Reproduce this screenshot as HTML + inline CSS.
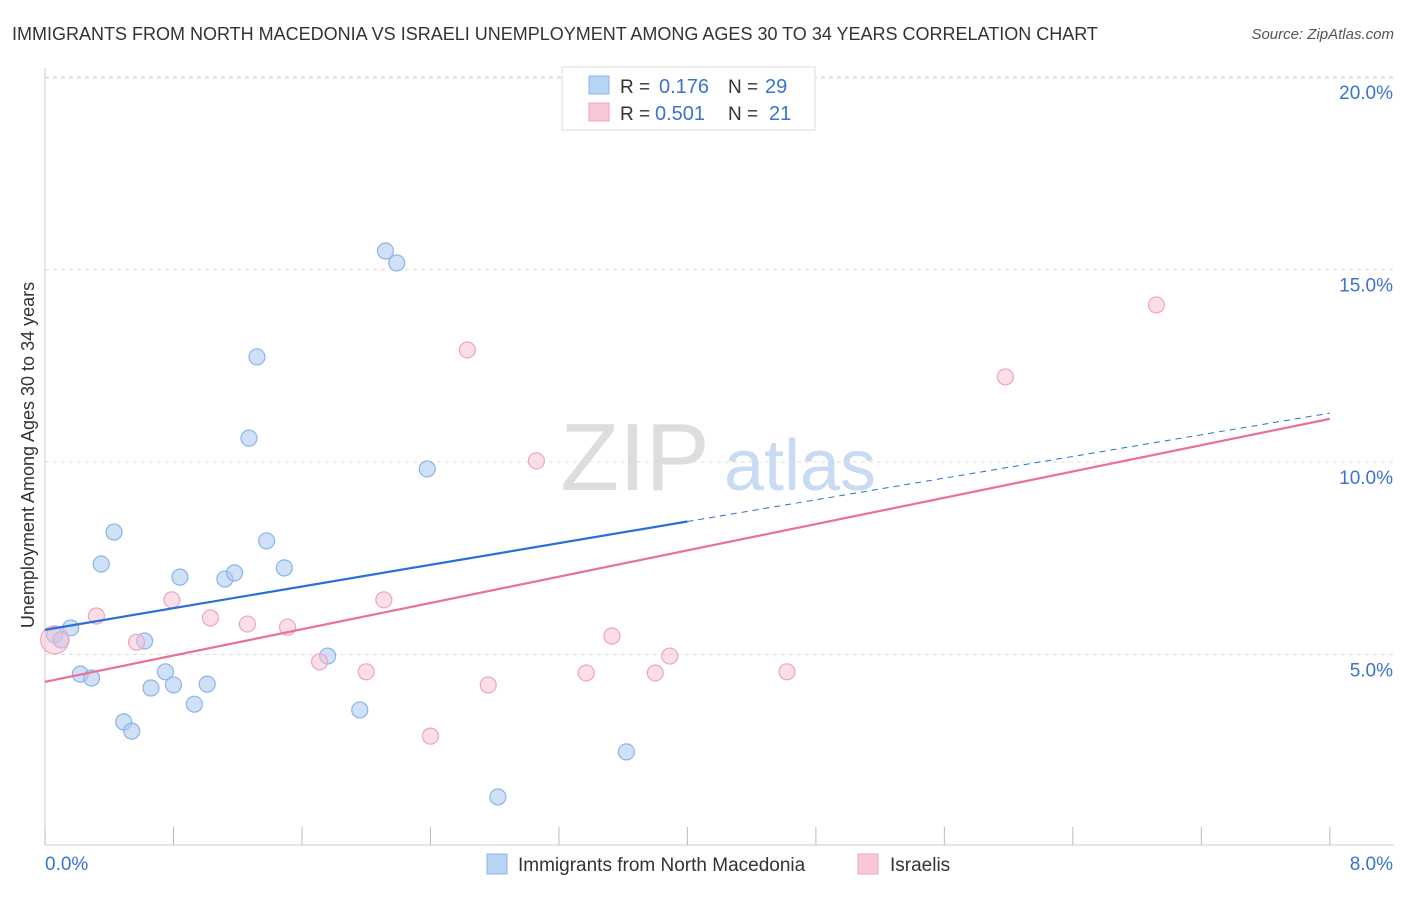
<!DOCTYPE html>
<html><head><meta charset="utf-8"><style>
body{margin:0;background:#fff;font-family:"Liberation Sans",sans-serif;}
svg text{font-family:"Liberation Sans",sans-serif;}
</style></head><body>
<svg id="c" width="1406" height="892">
<text x="12" y="40" font-size="18" fill="#333">IMMIGRANTS FROM NORTH MACEDONIA VS ISRAELI UNEMPLOYMENT AMONG AGES 30 TO 34 YEARS CORRELATION CHART</text>
<text x="1394" y="39" font-size="15" fill="#555" font-style="italic" text-anchor="end">Source: ZipAtlas.com</text>
<text x="635" y="490" font-size="96" fill="#ddd" font-family="Liberation Serif" text-anchor="middle">ZIP</text>
<text x="800" y="490" font-size="72" fill="#c9dbf2" text-anchor="middle">atlas</text>
<g id="grid"></g><g id="marks"></g>
<text transform="translate(34,455) rotate(-90)" font-size="18" fill="#333" text-anchor="middle">Unemployment Among Ages 30 to 34 years</text>
<g>
<rect x="562" y="67" width="253" height="63" fill="#fff" stroke="#ddd"/>
<rect x="589" y="76" width="20" height="18" fill="#b8d4f5" stroke="#8ab4e8"/>
<rect x="589" y="103" width="20" height="18" fill="#f9c8d8" stroke="#eea5bd"/>
<text x="620" y="93" font-size="19" fill="#333">R = </text><text x="659" y="93" font-size="20" fill="#3b73d0">0.176</text>
<text x="728" y="93" font-size="19" fill="#333">N = </text><text x="765" y="93" font-size="20" fill="#3b73d0">29</text>
<text x="620" y="120" font-size="19" fill="#333">R = </text><text x="655" y="120" font-size="20" fill="#3b73d0">0.501</text>
<text x="728" y="120" font-size="19" fill="#333">N = </text><text x="769" y="120" font-size="20" fill="#3b73d0">21</text>
</g>
<g>
<rect x="487" y="854" width="20" height="20" fill="#b8d4f5" stroke="#8ab4e8"/>
<text x="518" y="871" font-size="19" fill="#333">Immigrants from North Macedonia</text>
<rect x="858" y="854" width="20" height="20" fill="#f9c8d8" stroke="#eea5bd"/>
<text x="890" y="871" font-size="19" fill="#333">Israelis</text>
</g>
</svg>
<script>
const xTicks=[0,0.8,1.6,2.4,3.2,4,4.8,5.6,6.4,7.2,8];
const yTicks=[5,10,15,20];
const yTickLabels=["5.0%","10.0%","15.0%","20.0%"];
const blueX=[0.06,0.10,0.16,0.22,0.29,0.35,0.43,0.49,0.54,0.62,0.66,0.75,0.80,0.84,0.93,1.01,1.12,1.18,1.27,1.32,1.38,1.49,1.76,1.96,2.12,2.19,2.38,2.82,3.62];
const blueY=[5.51,5.38,5.69,4.49,4.39,7.35,8.18,3.25,3.01,5.35,4.13,4.55,4.21,7.01,3.71,4.23,6.96,7.12,10.62,12.73,7.95,7.25,4.96,3.56,15.48,15.17,9.82,1.30,2.47];
const pinkX=[0.06,0.32,0.57,0.79,1.03,1.26,1.51,1.71,2.00,2.11,2.40,2.63,2.76,3.06,3.37,3.53,3.80,3.89,4.62,5.98,6.92];
const pinkY=[5.38,6.00,5.32,6.42,5.95,5.79,5.71,4.81,4.55,6.42,2.88,12.91,4.21,10.03,4.52,5.48,4.52,4.96,4.55,12.21,14.08];
const blueLine=[5.64,11.27]; // value at x=0 and x=8
const pinkLine=[4.29,11.12];
const X=v=>45+v*160.6, Y=v=>847-v*38.5;
const NS="http://www.w3.org/2000/svg";
function mk(t,a,p){const e=document.createElementNS(NS,t);for(const k in a)e.setAttribute(k,a[k]);p.appendChild(e);return e;}
const g=document.getElementById('grid'),m=document.getElementById('marks');
let ax=mk('line',{x1:45,y1:68,x2:45,y2:845,stroke:'#ccc'},g);


let bx=mk('line',{x1:45,y1:845,x2:1394,y2:845,stroke:'#ccc'},g);


let tg=mk('line',{x1:45,y1:78,x2:1394,y2:78,stroke:'#ddd','stroke-dasharray':'4,4'},g);


yTicks.forEach((v,i)=>{
 const l=mk('line',{x1:45,y1:Y(v),x2:1394,y2:Y(v),stroke:'#ddd','stroke-dasharray':'4,4'},g);
 
 
 const t=mk('text',{x:1393,y:Y(v)+22,'font-size':19,fill:'#3b73d0','text-anchor':'end'},g);t.textContent=yTickLabels[i];
 
 
});
xTicks.forEach(v=>{const l=mk('line',{x1:X(v),y1:827,x2:X(v),y2:845,stroke:'#bbb'},g);
 
 });
let t0=mk('text',{x:45,y:870,'font-size':19,fill:'#3b73d0'},g);t0.textContent='0.0%';


let t1=mk('text',{x:1393,y:870,'font-size':19,fill:'#3b73d0','text-anchor':'end'},g);t1.textContent='8.0%';


blueX.forEach((x,i)=>{const c=mk('circle',{cx:X(x),cy:Y(blueY[i]),r:8,fill:'rgba(170,200,240,0.55)',stroke:'#8ab4e8','stroke-width':1.2},m);
 
 });
pinkX.forEach((x,i)=>{const c=mk('circle',{cx:X(x),cy:Y(pinkY[i]),r:i==0?14:8,fill:'rgba(247,190,210,0.5)',stroke:'#eea5bd','stroke-width':1.2},m);
 
 });
const bAt=v=>blueLine[0]+(blueLine[1]-blueLine[0])*v/8;
let bl=mk('line',{x1:X(0),y1:Y(bAt(0)),x2:X(4),y2:Y(bAt(4)),stroke:'#2a6fd6','stroke-width':2.2},m);


let bd=mk('line',{x1:X(4),y1:Y(bAt(4)),x2:X(8),y2:Y(bAt(8)),stroke:'#2a6fd6','stroke-width':1,'stroke-dasharray':'6,5'},m);


let pl=mk('line',{x1:X(0),y1:Y(pinkLine[0]),x2:X(8),y2:Y(pinkLine[1]),stroke:'#e8709a','stroke-width':2.2},m);


</script>
</body></html>
